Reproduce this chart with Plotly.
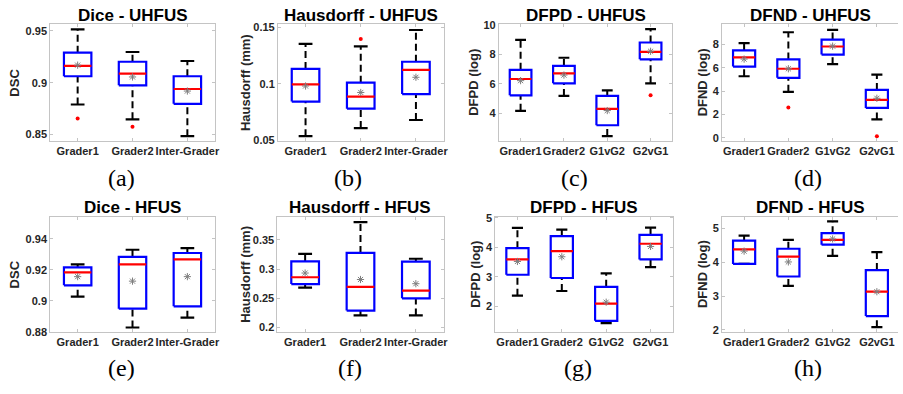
import plotly.graph_objects as go

W, H = 903, 394

CATS3 = ["Grader1", "Grader2", "Inter-Grader"]
CATS4 = ["Grader1", "Grader2", "G1vG2", "G2vG1"]

# (a) Dice - UHFUS
a_lo = [0.879, 0.8647, 0.8484]
a_q1 = [0.9063, 0.8975, 0.8797]
a_med = [0.9163, 0.9088, 0.894]
a_q3 = [0.929, 0.9203, 0.9063]
a_hi = [0.9516, 0.9297, 0.921]
a_mean = [0.917, 0.9056, 0.892]
a_out_x = ["Grader1", "Grader2"]
a_out_y = [0.8656, 0.8575]

# (b) Hausdorff - UHFUS
b_lo = [0.0537, 0.0609, 0.068]
b_q1 = [0.0843, 0.078, 0.0909]
b_med = [0.0994, 0.0886, 0.1123]
b_q3 = [0.1131, 0.1009, 0.1194]
b_hi = [0.1351, 0.1329, 0.1474]
b_mean = [0.098, 0.0923, 0.1057]
b_out_x = ["Grader2"]
b_out_y = [0.1394]

# (c) DFPD - UHFUS
c_lo = [4.16, 5.18, 2.44, 6.04]
c_q1 = [5.22, 6.04, 3.18, 7.67]
c_med = [6.33, 6.71, 4.29, 8.18]
c_q3 = [6.96, 7.22, 5.18, 8.82]
c_hi = [9.0, 7.78, 5.56, 9.73]
c_mean = [6.22, 6.6, 4.18, 8.22]
c_out_x = ["G2vG1"]
c_out_y = [5.22]

# (d) DFND - UHFUS
d_lo = [5.28, 3.94, 6.31, 1.58]
d_q1 = [6.11, 5.14, 7.14, 2.56]
d_med = [6.89, 5.92, 7.83, 3.25]
d_q3 = [7.5, 6.72, 8.42, 4.11]
d_hi = [8.11, 9.05, 9.25, 5.42]
d_mean = [6.75, 5.92, 7.86, 3.39]
d_out_x = ["Grader2", "G2vG1"]
d_out_y = [2.61, 0.14]

# (e) Dice - HFUS
e_lo = [0.9027, 0.8829, 0.8892]
e_q1 = [0.910, 0.895, 0.8965]
e_med = [0.9183, 0.9235, 0.9267]
e_q3 = [0.9215, 0.9283, 0.9308]
e_hi = [0.9235, 0.9329, 0.934]
e_mean = [0.9156, 0.9127, 0.9156]
e_out_x = []
e_out_y = []

# (f) Hausdorff - HFUS
f_lo = [0.2683, 0.2206, 0.2206]
f_q1 = [0.2744, 0.2289, 0.25]
f_med = [0.2861, 0.2694, 0.2633]
f_q3 = [0.3133, 0.3278, 0.3128]
f_hi = [0.3261, 0.3806, 0.3178]
f_mean = [0.2933, 0.2822, 0.275]
f_out_x = []
f_out_y = []

# (g) DFPD - HFUS
g_lo = [2.36, 2.52, 1.43, 3.33]
g_q1 = [3.07, 2.96, 1.51, 3.59]
g_med = [3.59, 3.87, 2.09, 4.12]
g_q3 = [3.97, 4.38, 2.66, 4.42]
g_hi = [4.66, 4.6, 3.12, 4.67]
g_mean = [3.52, 3.68, 2.14, 4.03]
g_out_x = []
g_out_y = []

# (h) DFND - HFUS
h_lo = [3.95, 3.3, 4.19, 2.08]
h_q1 = [3.95, 3.58, 4.52, 2.41]
h_med = [4.38, 4.17, 4.66, 3.13]
h_q3 = [4.64, 4.4, 4.86, 3.77]
h_hi = [4.79, 4.66, 5.21, 4.3]
h_mean = [4.33, 4.01, 4.69, 3.13]
h_out_x = []
h_out_y = []

TITLES = ["Dice - UHFUS", "Hausdorff - UHFUS", "DFPD - UHFUS", "DFND - UHFUS",
          "Dice - HFUS", "Hausdorff - HFUS", "DFPD - HFUS", "DFND - HFUS"]
YLABELS = ["DSC", "Hausdorff (mm)", "DFPD (log)", "DFND (log)",
           "DSC", "Hausdorff (mm)", "DFPD (log)", "DFND (log)"]
CAPTIONS = ["(a)", "(b)", "(c)", "(d)", "(e)", "(f)", "(g)", "(h)"]

YTICKS = [
    ([0.85, 0.9, 0.95], ["0.85", "0.9", "0.95"]),
    ([0.05, 0.1, 0.15], ["0.05", "0.1", "0.15"]),
    ([4, 6, 8, 10], ["4", "6", "8", "10"]),
    ([0, 2, 4, 6, 8], ["0", "2", "4", "6", "8"]),
    ([0.88, 0.9, 0.92, 0.94], ["0.88", "0.9", "0.92", "0.94"]),
    ([0.2, 0.25, 0.3, 0.35], ["0.2", "0.25", "0.3", "0.35"]),
    ([2, 3, 4, 5], ["2", "3", "4", "5"]),
    ([2, 3, 4, 5], ["2", "3", "4", "5"]),
]

panels = [
    (CATS3, a_lo, a_q1, a_med, a_q3, a_hi, a_mean, a_out_x, a_out_y),
    (CATS3, b_lo, b_q1, b_med, b_q3, b_hi, b_mean, b_out_x, b_out_y),
    (CATS4, c_lo, c_q1, c_med, c_q3, c_hi, c_mean, c_out_x, c_out_y),
    (CATS4, d_lo, d_q1, d_med, d_q3, d_hi, d_mean, d_out_x, d_out_y),
    (CATS3, e_lo, e_q1, e_med, e_q3, e_hi, e_mean, e_out_x, e_out_y),
    (CATS3, f_lo, f_q1, f_med, f_q3, f_hi, f_mean, f_out_x, f_out_y),
    (CATS4, g_lo, g_q1, g_med, g_q3, g_hi, g_mean, g_out_x, g_out_y),
    (CATS4, h_lo, h_q1, h_med, h_q3, h_hi, h_mean, h_out_x, h_out_y),
]

# layout geometry (pixels)
XPIX = [(50.5, 216), (279.5, 446), (501.7, 676), (726, 904),
        (50.5, 216), (279, 446), (498, 676.5), (726, 904)]
YPIX = [(20, 140)] * 4 + [(217.7, 336.7)] * 4
YRANGES = [(0.8437, 0.9563), (0.0494, 0.1523), (2.1, 10.05), (-0.28, 9.72),
           (0.8798, 0.9542), (0.1917, 0.39), (1.12, 5.04), (1.93, 5.35)]
YLAB_X = [15, 246.7, 476.7, 706.5, 15, 246.7, 478, 706.5]
CAP_X = [121.7, 350, 578, 813, 121.7, 351.7, 581.7, 813]
CAP_Y = [178] * 4 + [373] * 4
TITLE_Y = [11] * 4 + [208.3] * 4

BW = 0.25   # half box width
CW = 0.125  # half cap width

fig = go.Figure()
FRAME = "#c4c4c4"
TICKFONT = dict(family="Liberation Sans, Arial, sans-serif", size=11, color="#262626", weight="bold")

for k, (cats, lo, q1, med, q3, hi, mean, ox, oy) in enumerate(panels):
    n = len(cats)
    pos = list(range(1, n + 1))
    xa = "x" if k == 0 else f"x{k+1}"
    ya = "y" if k == 0 else f"y{k+1}"

    wx, wy, cx, cy, bx, by, mx, my = [], [], [], [], [], [], [], []
    for i, p in enumerate(pos):
        wx += [p, p, None, p, p, None]
        wy += [q3[i], hi[i], None, lo[i], q1[i], None]
        cx += [p - CW, p + CW, None, p - CW, p + CW, None]
        cy += [hi[i], hi[i], None, lo[i], lo[i], None]
        bx += [p - BW, p + BW, p + BW, p - BW, p - BW, None]
        by += [q1[i], q1[i], q3[i], q3[i], q1[i], None]
        mx += [p - BW, p + BW, None]
        my += [med[i], med[i], None]

    fig.add_trace(go.Scatter(x=wx, y=wy, mode="lines", xaxis=xa, yaxis=ya,
                             line=dict(color="black", width=2, dash="7px,4px"),
                             showlegend=False, hoverinfo="skip"))
    fig.add_trace(go.Scatter(x=cx, y=cy, mode="lines", xaxis=xa, yaxis=ya,
                             line=dict(color="black", width=2.2),
                             showlegend=False, hoverinfo="skip"))
    fig.add_trace(go.Scatter(x=bx, y=by, mode="lines", xaxis=xa, yaxis=ya,
                             line=dict(color="#0000ff", width=2.2),
                             showlegend=False, hoverinfo="skip"))
    fig.add_trace(go.Scatter(x=mx, y=my, mode="lines", xaxis=xa, yaxis=ya,
                             line=dict(color="#ff0000", width=2.2),
                             showlegend=False, hoverinfo="skip"))
    fig.add_trace(go.Scatter(x=pos, y=mean, mode="markers", xaxis=xa, yaxis=ya,
                             marker=dict(symbol="asterisk-open", size=6, color="#7f7f7f",
                                         line=dict(color="#7f7f7f", width=1)),
                             showlegend=False, hoverinfo="skip"))
    if ox:
        opos = [cats.index(c) + 1 for c in ox]
        fig.add_trace(go.Scatter(x=opos, y=oy, mode="markers", xaxis=xa, yaxis=ya,
                                 marker=dict(symbol="circle", size=4, color="#ff0000"),
                                 showlegend=False, hoverinfo="skip"))

    x0, x1 = XPIX[k]
    y0, y1 = YPIX[k]
    xr_end = 0.5 + n * (min(x1, W) - x0) / (x1 - x0)
    xdom = [x0 / W, min(x1, W) / W]
    ydom = [1 - y1 / H, 1 - y0 / H]
    cropped = x1 > W

    xkey = "xaxis" if k == 0 else f"xaxis{k+1}"
    ykey = "yaxis" if k == 0 else f"yaxis{k+1}"
    fig.update_layout(**{
        xkey: dict(domain=xdom, anchor=ya, range=[0.5, xr_end],
                   tickmode="array", tickvals=pos, ticktext=cats, tickangle=0,
                   showline=True, linecolor=FRAME, linewidth=1, mirror="ticks",
                   ticks="inside", ticklen=3, tickcolor=FRAME,
                   showgrid=False, zeroline=False, tickfont=TICKFONT,
                   ticklabelstandoff=0, ticklabeloverflow="allow"),
        ykey: dict(domain=ydom, anchor=xa, range=list(YRANGES[k]),
                   tickmode="array", tickvals=YTICKS[k][0], ticktext=YTICKS[k][1],
                   showline=True, linecolor=FRAME, linewidth=1,
                   mirror=False if cropped else "ticks",
                   ticks="inside", ticklen=3, tickcolor=FRAME,
                   showgrid=False, zeroline=False, tickfont=TICKFONT),
    })

    xc = (x0 + x1) / 2
    fig.add_annotation(text=TITLES[k], xref="paper", yref="paper",
                       x=xc / W, y=1 - TITLE_Y[k] / H, xanchor="center", yanchor="middle",
                       showarrow=False,
                       font=dict(family="Liberation Sans, Arial, sans-serif", size=17,
                                 color="black", weight="bold"))
    fig.add_annotation(text=YLABELS[k], xref="paper", yref="paper",
                       x=YLAB_X[k] / W, y=1 - (y0 + y1) / 2 / H, xanchor="center", yanchor="middle",
                       textangle=-90, showarrow=False,
                       font=dict(family="Liberation Sans, Arial, sans-serif", size=13,
                                 color="#262626", weight="bold"))
    fig.add_annotation(text=CAPTIONS[k], xref="paper", yref="paper",
                       x=CAP_X[k] / W, y=1 - CAP_Y[k] / H, xanchor="center", yanchor="middle",
                       showarrow=False,
                       font=dict(family="Liberation Serif, Times New Roman, serif", size=24,
                                 color="black"))

fig.update_layout(width=W, height=H, margin=dict(l=0, r=0, t=0, b=0),
                  paper_bgcolor="white", plot_bgcolor="white", showlegend=False)

fig.write_html("out.html", config={"displayModeBar": False},
               post_script="document.body.style.margin='0';document.body.style.overflow='hidden';")
